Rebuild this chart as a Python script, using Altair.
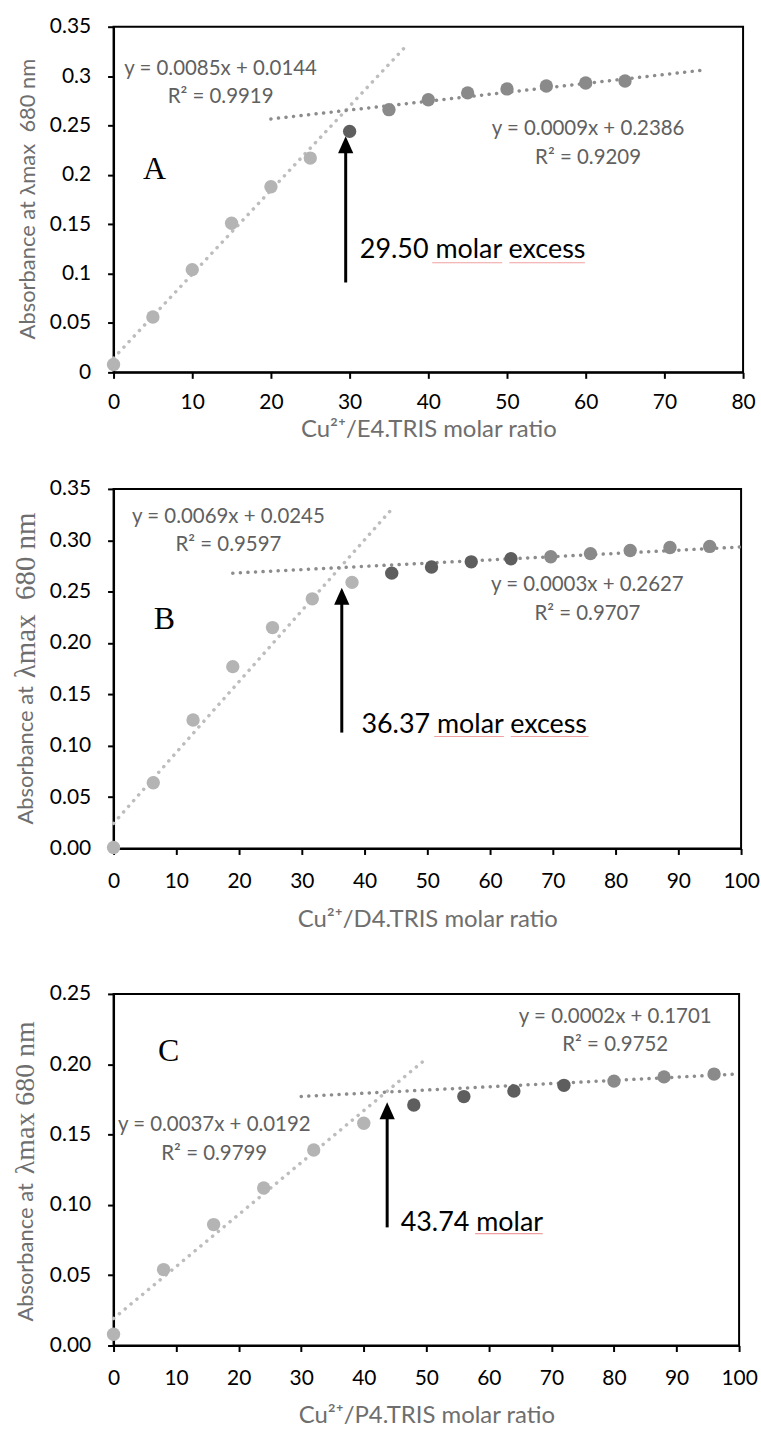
import altair as alt
import pandas as pd

SANS = "Lato"
SERIF = "Liberation Serif"

# ---------------- Panel A ----------------
a_x = [0, 5, 10, 15, 20, 25, 30, 35, 40, 45, 50, 55, 60, 65]
a_y = [0.008, 0.056, 0.104, 0.151, 0.188, 0.217, 0.244, 0.266, 0.276, 0.283, 0.287, 0.290, 0.293, 0.295]
a_group = ["rise", "rise", "rise", "rise", "rise", "rise", "turn",
           "plateau", "plateau", "plateau", "plateau", "plateau", "plateau", "plateau"]
a_fit1_x = [0, 37]
a_fit1_y = [0.0144, 0.329]
a_fit2_x = [20, 75]
a_fit2_y = [0.2566, 0.3061]
a_eq_text = ["y = 0.0085x + 0.0144", "R² = 0.9919", "y = 0.0009x + 0.2386", "R² = 0.9209"]
a_eq_x = [13.6, 13.6, 60.3, 60.3]
a_eq_y = [0.3076, 0.279, 0.246, 0.217]
a_arrow = [29.5, 0.091, 0.239]          # x, tail, tip
a_note = ["29.50 molar excess", 31.3, 0.124]
a_squiggle_x1 = [40.5, 50.3]
a_squiggle_x2 = [49.4, 59.9]
a_squiggle_y = [0.111, 0.111]
a_letter = ["A", 5.2, 0.206]

# ---------------- Panel B ----------------
b_x = [0, 6.33, 12.67, 19, 25.33, 31.67, 38, 44.33, 50.67, 57, 63.33, 69.67, 76, 82.33, 88.67, 95]
b_y = [0.001, 0.064, 0.125, 0.177, 0.215, 0.243, 0.259, 0.268, 0.274, 0.279, 0.282, 0.284, 0.287, 0.290, 0.293, 0.294]
b_group = ["rise", "rise", "rise", "rise", "rise", "rise", "rise",
           "turn", "turn", "turn", "turn",
           "plateau", "plateau", "plateau", "plateau", "plateau"]
b_fit1_x = [0, 44]
b_fit1_y = [0.0245, 0.328]
b_fit2_x = [19, 100]
b_fit2_y = [0.268, 0.2935]
b_eq_text = ["y = 0.0069x + 0.0245", "R² = 0.9597", "y = 0.0003x + 0.2627", "R² = 0.9707"]
b_eq_x = [18.3, 18.3, 75.5, 75.5]
b_eq_y = [0.3222, 0.2957, 0.256, 0.2278]
b_arrow = [36.37, 0.1128, 0.2537]
b_note = ["36.37 molar excess", 39.5, 0.1202]
b_squiggle_x1 = [51.1, 63.3]
b_squiggle_x2 = [62.2, 75.7]
b_squiggle_y = [0.109, 0.109]
b_letter = ["B", 8.1, 0.2237]

# ---------------- Panel C ----------------
c_x = [0, 8, 16, 24, 32, 40, 48, 56, 64, 72, 80, 88, 96]
c_y = [0.008, 0.054, 0.086, 0.112, 0.139, 0.158, 0.171, 0.177, 0.181, 0.185, 0.188, 0.191, 0.193]
c_group = ["rise", "rise", "rise", "rise", "rise", "rise",
           "turn", "turn", "turn", "turn",
           "plateau", "plateau", "plateau"]
c_fit1_x = [0, 50]
c_fit1_y = [0.0192, 0.204]
c_fit2_x = [30, 100]
c_fit2_y = [0.1771, 0.1931]
c_eq_text = ["y = 0.0002x + 0.1701", "R² = 0.9752", "y = 0.0037x + 0.0192", "R² = 0.9799"]
c_eq_x = [80.2, 80.2, 16.1, 16.1]
c_eq_y = [0.2339, 0.2137, 0.1565, 0.136]
c_arrow = [43.74, 0.084, 0.173]
c_note = ["43.74 molar", 45.9, 0.0869]
c_squiggle_x1 = [57.8]
c_squiggle_x2 = [68.6]
c_squiggle_y = [0.0795]
c_letter = ["C", 8.8, 0.2096]

GROUPS = ["rise", "turn", "plateau"]
GROUP_COLORS = ["#b4b4b4", "#5e5e5e", "#8a8a8a"]
ARROW_HEAD = "M0,0L-0.9,2L0.9,2Z"
EQ_COLOR = "#606060"
TITLE_COLOR = "#6e6e6e"
NBSP = "\u00a0"


def panel(px, py, pg, f1x, f1y, f2x, f2y, eq_t, eq_x, eq_y, arrow, note,
          sq_x1, sq_x2, sq_y, letter,
          xmax, ymax, yfmt, xtitle, xtitle_y, xlabel_pad, ytitle_parts, w, h, spacer=None):
    xs = alt.Scale(domain=[0, xmax], nice=False, zero=False)
    ys = alt.Scale(domain=[0, ymax], nice=False, zero=False)
    xaxis = alt.Axis(values=list(range(0, xmax + 1, 10)), title=xtitle,
                     titleY=xtitle_y, titleBaseline="middle", grid=False,
                     labelFlush=False, labelPadding=xlabel_pad)
    nt = int(round(ymax / 0.05))
    yaxis = alt.Axis(values=[round(i * 0.05, 2) for i in range(nt + 1)],
                     format=yfmt, title=None, grid=False, labelFlush=False)
    X = alt.X("x:Q", scale=xs, axis=xaxis)
    Y = alt.Y("y:Q", scale=ys, axis=yaxis)

    fit1 = alt.Chart(pd.DataFrame({"x": f1x, "y": f1y})).mark_line(
        color="#bdbdbd", strokeWidth=3.5, strokeDash=[0.1, 7.5], strokeCap="round"
    ).encode(x=X, y=Y)
    fit2 = alt.Chart(pd.DataFrame({"x": f2x, "y": f2y})).mark_line(
        color="#8c8c8c", strokeWidth=3.5, strokeDash=[0.1, 7.5], strokeCap="round"
    ).encode(x=X, y=Y)
    pts = alt.Chart(pd.DataFrame({"x": px, "y": py, "g": pg})).mark_circle(
        size=180, opacity=1
    ).encode(x=X, y=Y, color=alt.Color("g:N", scale=alt.Scale(domain=GROUPS, range=GROUP_COLORS), legend=None))

    ax, a0, a1 = arrow
    shaft_top = a1 - (10.0 / h) * ymax
    shaft = alt.Chart(pd.DataFrame({"x": [ax], "y": [a0], "y2": [shaft_top]})).mark_rule(
        color="black", strokeWidth=3
    ).encode(x=X, y=Y, y2="y2:Q")
    head = alt.Chart(pd.DataFrame({"x": [ax], "y": [a1]})).mark_point(
        shape=ARROW_HEAD, size=289, filled=True, opacity=1, color="black", strokeWidth=0
    ).encode(x=X, y=Y)

    eqs = alt.Chart(pd.DataFrame({"x": eq_x, "y": eq_y, "t": eq_t})).mark_text(
        font=SANS, fontSize=20.5, color=EQ_COLOR, align="center", baseline="middle"
    ).encode(x=X, y=Y, text="t:N")
    nt_df = pd.DataFrame({"x": [note[1]], "y": [note[2]], "t": [note[0]]})
    note_m = alt.Chart(nt_df).mark_text(
        font=SANS, fontSize=27, color="black", align="left", baseline="middle"
    ).encode(x=X, y=Y, text="t:N")
    sq = alt.Chart(pd.DataFrame({"x": sq_x1, "x2": sq_x2, "y": sq_y})).mark_rule(
        color="#f0a0a0", strokeWidth=1.2
    ).encode(x=X, x2="x2:Q", y=Y)
    lt_df = pd.DataFrame({"x": [letter[1]], "y": [letter[2]], "t": [letter[0]]})
    letter_m = alt.Chart(lt_df).mark_text(
        font=SERIF, fontSize=32, color="black", align="center", baseline="middle"
    ).encode(x=X, y=Y, text="t:N")

    layers = [fit1, fit2, pts, shaft, head, eqs, sq, note_m, letter_m]
    for txt, font, size, xpix, ypix, align in ytitle_parts:
        layers.append(
            alt.Chart(pd.DataFrame({"t": [txt]})).mark_text(
                font=font, fontSize=size, color=TITLE_COLOR, angle=270,
                align=align, baseline="middle"
            ).encode(x=alt.value(xpix), y=alt.value(ypix), text="t:N")
        )
    if spacer is not None:
        layers.append(
            alt.Chart(pd.DataFrame({"t": ["."]})).mark_text(
                font=SANS, fontSize=10, color="white", align="center", baseline="top"
            ).encode(x=alt.value(0), y=alt.value(spacer), text="t:N")
        )
    return alt.layer(*layers).properties(width=w, height=h)


chart_a = panel(a_x, a_y, a_group, a_fit1_x, a_fit1_y, a_fit2_x, a_fit2_y,
                a_eq_text, a_eq_x, a_eq_y, a_arrow, a_note,
                a_squiggle_x1, a_squiggle_x2, a_squiggle_y, a_letter,
                80, 0.35, ".2~f", "Cu²⁺/E4.TRIS molar ratio", 57, 13,
                [("Absorbance at λmax" + NBSP + " 680 nm", SANS, 22, -86, 173, "center")],
                632, 347)
chart_b = panel(b_x, b_y, b_group, b_fit1_x, b_fit1_y, b_fit2_x, b_fit2_y,
                b_eq_text, b_eq_x, b_eq_y, b_arrow, b_note,
                b_squiggle_x1, b_squiggle_x2, b_squiggle_y, b_letter,
                100, 0.35, ".2f", "Cu²⁺/D4.TRIS molar ratio", 71, 16,
                [("Absorbance at", SANS, 22, -88, 337, "left"),
                 ("λmax" + NBSP + " 680 nm", SERIF, 29, -88, 190, "left")],
                630, 361)
chart_c = panel(c_x, c_y, c_group, c_fit1_x, c_fit1_y, c_fit2_x, c_fit2_y,
                c_eq_text, c_eq_x, c_eq_y, c_arrow, c_note,
                c_squiggle_x1, c_squiggle_x2, c_squiggle_y, c_letter,
                100, 0.25, ".2f", "Cu²⁺/P4.TRIS molar ratio", 70, 16,
                [("Absorbance at", SANS, 22, -88, 329, "left"),
                 ("λmax 680 nm", SERIF, 28, -88, 181, "left")],
                628, 353, spacer=-26)

chart = alt.vconcat(chart_a, chart_b, chart_c, spacing=35).properties(
    padding={"left": 10, "top": 12, "right": 0, "bottom": 0},
    background="white",
).configure_view(
    stroke="black", strokeWidth=2
).configure_axis(
    domainColor="black", domainWidth=2, tickColor="black", tickWidth=2, tickSize=6,
    labelFont=SANS, labelFontSize=21, labelColor="black",
    titleFont=SANS, titleFontSize=24, titleColor=TITLE_COLOR, titleFontWeight="normal",
    grid=False
).configure_axisY(labelPadding=17)

chart.save("out.html", embed_options={"renderer": "svg", "actions": False})
